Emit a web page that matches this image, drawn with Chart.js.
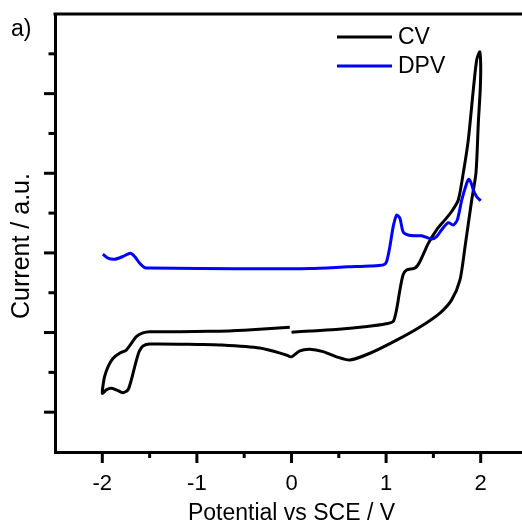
<!DOCTYPE html>
<html>
<head>
<meta charset="utf-8">
<title>CV / DPV</title>
<script src="https://cdn.jsdelivr.net/npm/chart.js@4/dist/chart.umd.min.js"></script>
<style>
  html, body { margin: 0; padding: 0; background: #fff; overflow: hidden; }
  #wrap { width: 545px; height: 527px; }
</style>
</head>
<body>
<div id="wrap"><canvas id="chart" width="545" height="527"></canvas></div>
<script>
// valores (potencial em V, corrente em unidades arbitrárias)
const cvPotential = [
  0, 0.2, 0.5, 0.8, 1.0, 1.075, 1.11, 1.146, 1.18, 1.217, 1.305, 1.357, 1.446,
  1.534, 1.622, 1.693, 1.763, 1.816, 1.869, 1.922, 1.958, 1.99,
  2.0, 1.995, 1.975, 1.95, 1.905, 1.834, 1.781, 1.693, 1.569, 1.358, 1.111,
  0.829, 0.617, 0.476, 0.334, 0.194, 0.088, 0, -0.07, -0.335, -0.759, -0.97,
  -1.5, -1.57, -1.605, -1.623, -1.658, -1.693, -1.729, -1.782, -1.852, -1.905,
  -1.958, -2.0,
  -1.994, -1.976, -1.94, -1.888, -1.817, -1.746, -1.693, -1.64, -1.57, -1.5,
  -1.18, -0.865, -0.5, -0.018
];
const cvCurrent = [
  3.01, 3.04, 3.08, 3.15, 3.22, 3.28, 3.57, 4.07, 4.45, 4.57, 4.62, 4.78, 5.24,
  5.58, 5.83, 6.04, 6.33, 7.01, 7.84, 9.10, 9.85, 10.05,
  9.7, 9.10, 8.27, 7.01, 6.33, 5.15, 4.32, 3.82, 3.49, 3.14, 2.81,
  2.48, 2.31, 2.39, 2.52, 2.58, 2.54, 2.39, 2.45, 2.61, 2.69, 2.70,
  2.71, 2.66, 2.55, 2.44, 2.14, 1.81, 1.56, 1.49, 1.56, 1.60,
  1.56, 1.47,
  1.64, 1.89, 2.14, 2.35, 2.48, 2.56, 2.73, 2.90, 2.99, 3.02,
  3.02, 3.03, 3.06, 3.13
];

const dpvPotential = [
  -1.994, -1.94, -1.87, -1.782, -1.704, -1.658, -1.605, -1.552, -1.5, -0.97,
  -0.23, 0.194, 0.6, 0.829, 0.97, 1.005, 1.04, 1.075, 1.111, 1.146, 1.18,
  1.234, 1.32, 1.376, 1.48, 1.534, 1.587, 1.657, 1.71, 1.753, 1.8, 1.852,
  1.875, 1.9, 1.922, 1.958, 2.0
];
const dpvCurrent = [
  4.97, 4.87, 4.84, 4.91, 4.99, 4.91, 4.74, 4.63, 4.62, 4.61,
  4.60, 4.61, 4.65, 4.67, 4.70, 4.78, 5.16, 5.66, 5.95, 5.87, 5.53,
  5.45, 5.43, 5.43, 5.35, 5.41, 5.58, 5.76, 5.70, 5.83, 6.33, 6.75,
  6.85, 6.75, 6.58, 6.41, 6.31
];

const seriesLabels = ["CV", "DPV"];
const xMajorTicks = [-2, -1, 0, 1, 2];
const xMinorTicks = [-1.5, -0.5, 0.5, 1.5];
const yMajorTicks = [1, 3, 5, 7, 9];
const yMinorTicks = [2, 4, 6, 8, 10];
const yTitle = "Current / a.u.";

const FONT = "'Liberation Sans', Arial, sans-serif";
Chart.defaults.font.family = FONT;
Chart.defaults.color = "#000";

function toPoints(xs, ys) {
  return xs.map((x, i) => ({ x: x, y: ys[i] }));
}

// moldura superior, marcas dos eixos, legenda, título do eixo y e "a)"
const decorPlugin = {
  id: "decor",
  afterDraw(chart) {
    const { ctx, chartArea: a, scales } = chart;
    const x = scales.x;
    const y = scales.y;
    ctx.save();
    ctx.strokeStyle = "#000";
    ctx.lineWidth = 3;
    const seg = (x1, y1, x2, y2) => {
      ctx.beginPath();
      ctx.moveTo(x1, y1);
      ctx.lineTo(x2, y2);
      ctx.stroke();
    };
    seg(a.left - 1.5, a.top, a.right, a.top);
    xMajorTicks.forEach((v) => { const p = x.getPixelForValue(v); seg(p, a.bottom, p, a.bottom + 11); });
    xMinorTicks.forEach((v) => { const p = x.getPixelForValue(v); seg(p, a.bottom, p, a.bottom + 6); });
    yMajorTicks.forEach((v) => { const p = y.getPixelForValue(v); seg(a.left, p, a.left - 11, p); });
    yMinorTicks.forEach((v) => { const p = y.getPixelForValue(v); seg(a.left, p, a.left - 6.5, p); });

    // legenda
    ctx.font = "23px " + FONT;
    ctx.textBaseline = "middle";
    ctx.textAlign = "left";
    chart.data.datasets.forEach((ds, i) => {
      const ly = 37 + i * 29;
      ctx.strokeStyle = ds.borderColor;
      ctx.lineWidth = 3;
      seg(337, ly, 392, ly);
      ctx.fillStyle = "#000";
      ctx.fillText(ds.label, 398, ly + 1);
    });

    ctx.fillText("a)", 11, 30);

    // título do eixo y
    ctx.font = "25px " + FONT;
    ctx.textAlign = "center";
    ctx.translate(22, 246);
    ctx.rotate(-Math.PI / 2);
    ctx.fillText(yTitle, 0, 0);
    ctx.restore();
  },
};

const ctx = document.getElementById("chart").getContext("2d");
new Chart(ctx, {
  type: "scatter",
  data: {
    datasets: [
      {
        label: seriesLabels[0],
        data: toPoints(cvPotential, cvCurrent),
        showLine: true,
        borderColor: "#000000",
        borderWidth: 3,
        pointRadius: 0,
        tension: 0.25,
        order: 1,
      },
      {
        label: seriesLabels[1],
        data: toPoints(dpvPotential, dpvCurrent),
        showLine: true,
        borderColor: "#0000ff",
        borderWidth: 3,
        pointRadius: 0,
        tension: 0.25,
        order: 0,
      },
    ],
  },
  options: {
    responsive: false,
    animation: false,
    events: [],
    layout: { padding: { top: 14, right: 17, left: 0, bottom: 0 } },
    plugins: {
      legend: { display: false },
      tooltip: { enabled: false },
    },
    scales: {
      x: {
        type: "linear",
        min: -2.5,
        max: 2.5,
        afterBuildTicks: (scale) => {
          scale.ticks = xMajorTicks.map((v) => ({ value: v }));
        },
        afterFit: (scale) => { scale.height = 75; },
        border: { display: true, color: "#000", width: 3 },
        grid: { display: false, drawTicks: false },
        ticks: {
          padding: 19,
          font: { size: 22 },
          color: "#000",
          maxRotation: 0,
          autoSkip: false,
          callback: (v) => String(v),
        },
        title: {
          display: true,
          text: "Potential vs SCE / V",
          font: { size: 23 },
          color: "#000",
          padding: { top: 0, bottom: 0 },
        },
      },
      y: {
        type: "linear",
        min: 0,
        max: 11,
        afterFit: (scale) => { scale.width = 55; },
        border: { display: true, color: "#000", width: 3 },
        grid: { display: false, drawTicks: false },
        ticks: { display: false },
      },
    },
  },
  plugins: [decorPlugin],
});
</script>
</body>
</html>
